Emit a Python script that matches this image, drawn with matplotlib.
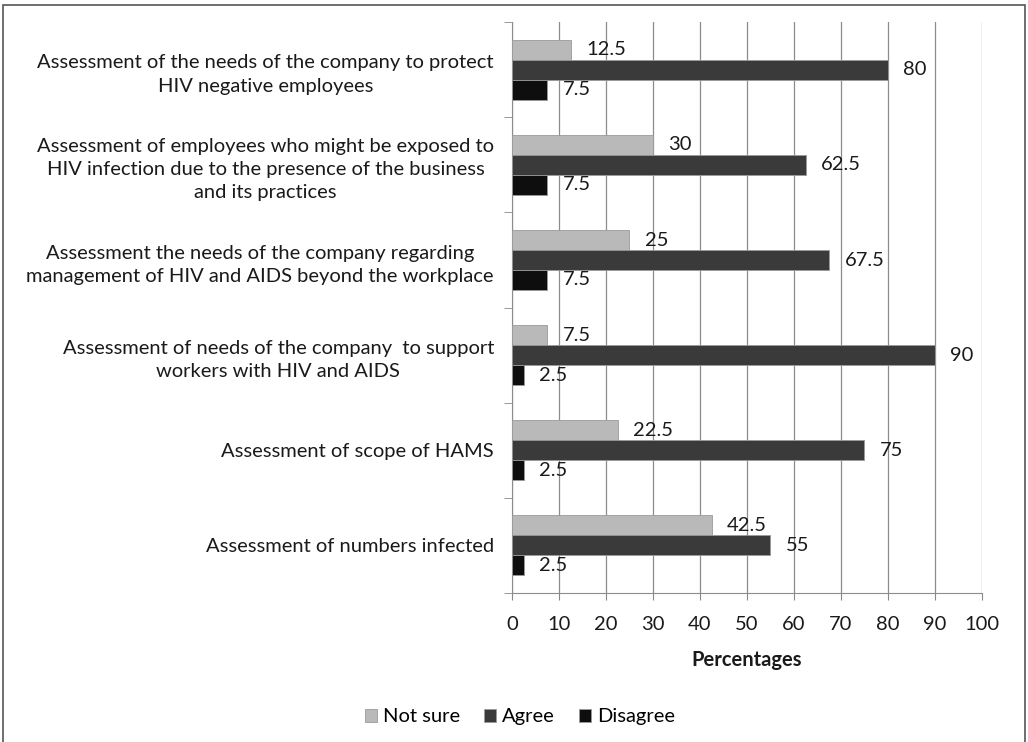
import numpy as np
import matplotlib.pyplot as plt
from matplotlib.patches import Rectangle

plt.rcParams['font.family'] = ['Lato', 'DejaVu Sans']

# Data (top category first)
categories = [
    "Assessment of the needs of the company to protect\nHIV negative employees",
    "Assessment of employees who might be exposed to\nHIV infection due to the presence of the business\nand its practices",
    "Assessment the needs of the company regarding\nmanagement of HIV and AIDS beyond the workplace",
    "Assessment of needs of the company  to support\nworkers with HIV and AIDS",
    "Assessment of scope of HAMS",
    "Assessment of numbers infected",
]
not_sure = [12.5, 30, 25, 7.5, 22.5, 42.5]
agree = [80, 62.5, 67.5, 90, 75, 55]
disagree = [7.5, 7.5, 7.5, 2.5, 2.5, 2.5]

series = [("Not sure", not_sure, "#b9b9b9"),
          ("Agree", agree, "#3a3a3a"),
          ("Disagree", disagree, "#0e0e0e")]

fig = plt.figure(figsize=(10.28, 7.42), dpi=100)
ax = fig.add_axes([0.498, 0.201, 0.457, 0.769])

fs = 14.5
y = np.arange(len(categories))
h = 0.21
for i, (name, vals, col) in enumerate(series):
    pos = y + (i - 1) * h
    ax.barh(pos, vals, height=h, color=col, edgecolor="#9a9a9a",
            linewidth=0.6, label=name, zorder=3)
    for p, v in zip(pos, vals):
        ax.text(v + 3.3, p, f"{v:g}", va="center", ha="left",
                fontsize=fs, color="#1a1a1a", zorder=4)

ax.set_xlim(0, 100)
ax.set_ylim(len(categories) - 0.5, -0.5)
ax.set_xticks(np.arange(0, 101, 10))
ax.tick_params(axis="x", labelsize=fs, length=5, color="#888888",
               labelcolor="#1a1a1a", pad=12)
ax.set_yticks(y)
ax.set_yticklabels(categories, fontsize=fs, color="#1a1a1a",
                   multialignment="center", linespacing=1.45)
ax.tick_params(axis="y", length=0, pad=13)
ax.set_yticks(np.arange(-0.5, len(categories)), minor=True)
ax.tick_params(axis="y", which="minor", length=6, color="#888888")

ax.grid(axis="x", color="#8c8c8c", linewidth=0.9, zorder=0)
for s in ["top", "right"]:
    ax.spines[s].set_visible(False)
for s in ["left", "bottom"]:
    ax.spines[s].set_color("#8c8c8c")
ax.set_xlabel("Percentages", fontsize=fs, fontweight="bold",
              color="#1a1a1a", labelpad=12)

fig.legend(loc="center", bbox_to_anchor=(0.506, 0.034), ncol=3,
           frameon=False, fontsize=fs, handlelength=0.6, handleheight=0.6,
           handletextpad=0.3, columnspacing=1.2)

fig.patches.append(Rectangle((3 / 1028, -0.05), 1022 / 1028, 1.05 - 5 / 742,
                             transform=fig.transFigure, fill=False,
                             edgecolor="#555555", linewidth=1.2))

fig.savefig("out.png", dpi=100)
